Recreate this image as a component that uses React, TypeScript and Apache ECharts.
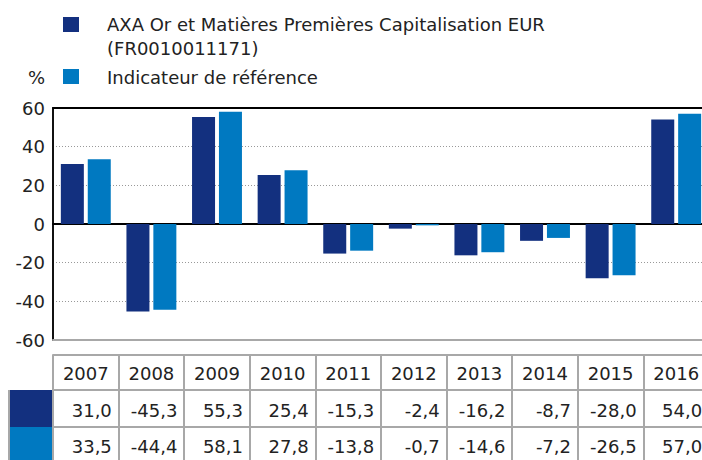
import React, { useEffect, useRef } from "react";
import * as echarts from "echarts";

const years = ["2007", "2008", "2009", "2010", "2011", "2012", "2013", "2014", "2015", "2016"];
const fundValues = [31.0, -45.3, 55.3, 25.4, -15.3, -2.4, -16.2, -8.7, -28.0, 54.0];
const benchValues = [33.5, -44.4, 58.1, 27.8, -13.8, -0.7, -14.6, -7.2, -26.5, 57.0];
const fundName = "AXA Or et Matières Premières Capitalisation EUR";
const fundCode = "(FR0010011171)";
const benchName = "Indicateur de référence";
const yTicks = { min: -60, max: 60, interval: 20 };

const DARK = "#13307f";
const LIGHT = "#0079c1";
const GRAY = "#a8a8a8";
const TEXT = "#222222";
const FONT = "DejaVu Sans";
const FS = 18;

const fmt = (v: number) => v.toFixed(1).replace(".", ",");

export default function App() {
  const ref = useRef<HTMLDivElement>(null);
  useEffect(() => {
    if (!ref.current) return;
    const chart = echarts.init(ref.current, undefined, { renderer: "svg" });
    const tableAxis = (offset: number, data: string[], tickLen: number, margin: number, right: boolean) => ({
      type: "category",
      position: "bottom",
      offset,
      data,
      boundaryGap: true,
      axisLine: { show: true, onZero: false, lineStyle: { color: GRAY, width: 2 } },
      axisTick: { show: true, interval: 0, inside: false, length: tickLen, lineStyle: { color: GRAY, width: 2 } },
      axisLabel: {
        show: true,
        interval: 0,
        margin,
        color: TEXT,
        fontFamily: FONT,
        fontSize: FS,
        lineHeight: FS,
        formatter: right ? (v: string) => `{v|${v}}` : undefined,
        rich: right ? { v: { width: 52, align: "right", fontFamily: FONT, fontSize: FS, color: TEXT, lineHeight: FS } } : undefined,
      },
      splitLine: { show: false },
    });
    chart.setOption({
      animation: false,
      textStyle: { fontFamily: FONT },
      grid: { left: 53, top: 108, width: 656, height: 232, containLabel: false, outerBoundsMode: "none" },
      xAxis: [
        {
          type: "category",
          data: years,
          position: "bottom",
          axisLine: { show: true, onZero: true, lineStyle: { color: "#000", width: 2 } },
          axisTick: { show: false },
          axisLabel: { show: false },
        },
        {
          type: "category",
          data: years,
          position: "top",
          axisLine: { show: true, onZero: false, lineStyle: { color: "#000", width: 2 } },
          axisTick: { show: false },
          axisLabel: { show: false },
        },
        {
          type: "category",
          data: years,
          position: "bottom",
          offset: 0,
          axisLine: { show: true, onZero: false, lineStyle: { color: GRAY, width: 2 } },
          axisTick: { show: false },
          axisLabel: { show: false },
        },
        tableAxis(15, years, 35, 9, false),
        tableAxis(50, fundValues.map(fmt), 37, 11, true),
        tableAxis(87, benchValues.map(fmt), 40, 10, true),
      ],
      yAxis: {
        type: "value",
        min: yTicks.min,
        max: yTicks.max,
        interval: yTicks.interval,
        axisLine: { show: true, lineStyle: { color: "#111", width: 2 } },
        axisTick: { show: false },
        axisLabel: { color: TEXT, fontFamily: FONT, fontSize: FS, margin: 8 },
        splitLine: { show: true, lineStyle: { color: "#999", type: [1, 2], width: 1 } },
      },
      series: [
        {
          name: fundName,
          type: "bar",
          data: fundValues,
          barWidth: 23,
          barGap: "17%",
          itemStyle: { color: DARK },
        },
        {
          name: benchName,
          type: "bar",
          data: benchValues,
          barWidth: 23,
          barGap: "17%",
          itemStyle: { color: LIGHT },
        },
      ],
      graphic: [
        { type: "rect", shape: { x: 63, y: 17, width: 16, height: 15 }, style: { fill: DARK } },
        { type: "rect", shape: { x: 63, y: 69, width: 16, height: 15 }, style: { fill: LIGHT } },
        { type: "text", x: 107, y: 24, style: { text: fundName, fill: TEXT, font: `${FS}px "${FONT}"`, verticalAlign: "middle" } },
        { type: "text", x: 107, y: 48, style: { text: fundCode, fill: TEXT, font: `${FS}px "${FONT}"`, verticalAlign: "middle" } },
        { type: "text", x: 107, y: 77, style: { text: benchName, fill: TEXT, font: `${FS}px "${FONT}"`, verticalAlign: "middle" } },
        { type: "text", x: 28, y: 77, style: { text: "%", fill: TEXT, font: `${FS}px "${FONT}"`, verticalAlign: "middle" } },
        { type: "rect", shape: { x: 10, y: 390, width: 42, height: 37 }, style: { fill: DARK } },
        { type: "rect", shape: { x: 10, y: 427, width: 42, height: 33 }, style: { fill: LIGHT } },
        { type: "rect", shape: { x: 8, y: 390, width: 2, height: 70 }, style: { fill: GRAY } },
      ],
    });
    return () => chart.dispose();
  }, []);
  return <div ref={ref} style={{ width: 702, height: 460, position: "absolute", left: 0, top: 0, overflow: "hidden" }} />;
}
